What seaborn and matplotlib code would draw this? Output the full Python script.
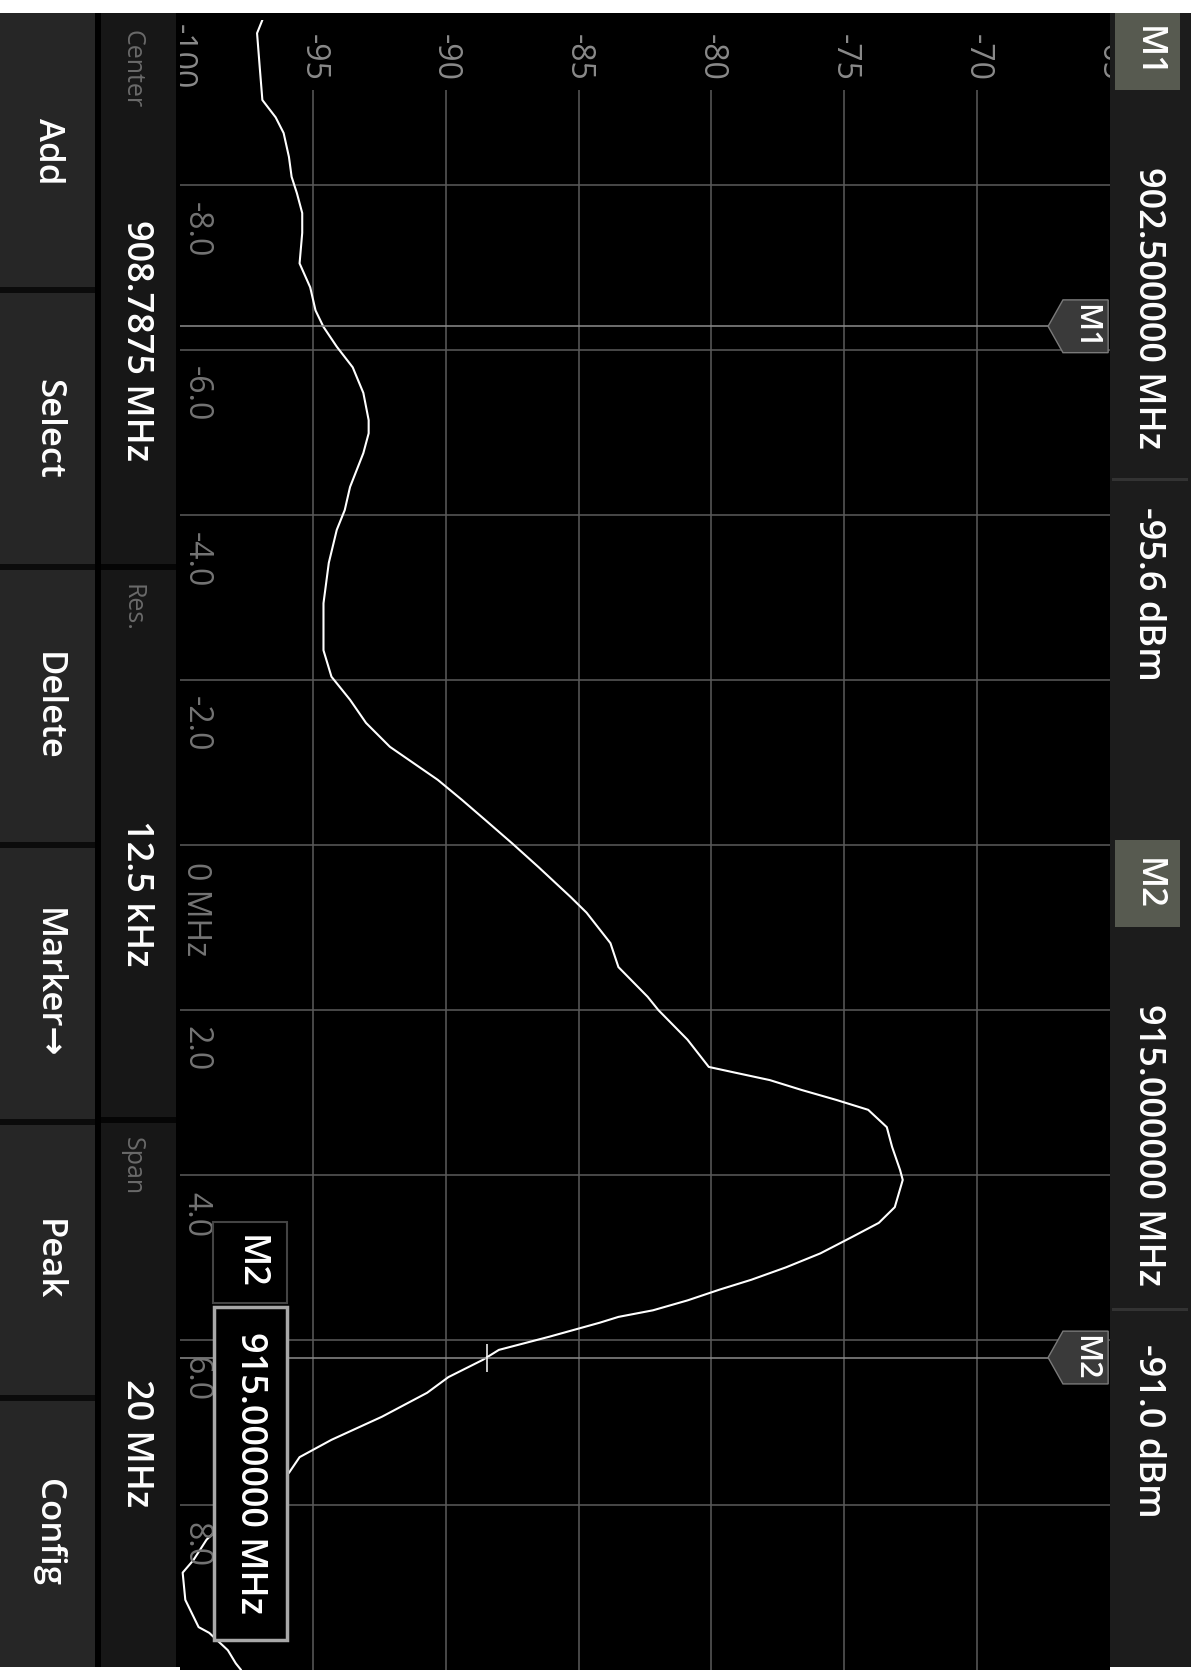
import numpy as np
import matplotlib
matplotlib.use("Agg")
import matplotlib.pyplot as plt
import seaborn as sns
from matplotlib.patches import Rectangle, Polygon

sns.set_style("dark")
plt.rcParams['font.family'] = ['Open Sans', 'DejaVu Sans']

# trace: offset from centre [MHz] and level [dBm]
freq_offset_mhz = [-10.0, -9.84, -9.43, -9.03, -8.82, -8.63, -8.34, -8.10, -7.90, -7.66,
                   -7.42, -7.05, -6.76, -6.48, -6.28, -6.04, -5.79, -5.48, -5.15, -4.99,
                   -4.75, -4.34, -4.06, -3.82, -3.42, -2.93, -2.36, -2.04, -1.76, -1.48,
                   -1.19, -0.99, -0.79, -0.55, -0.30, -0.02, 0.27, 0.63, 0.82, 1.19,
                   1.48, 1.84, 2.00, 2.36, 2.69, 2.76, 2.85, 2.97, 3.09, 3.21,
                   3.42, 3.66, 3.94, 4.06, 4.39, 4.58, 4.75, 4.95, 5.12, 5.27,
                   5.39, 5.52, 5.64, 5.72, 5.79, 5.96, 6.12, 6.24, 6.45, 6.64,
                   6.93, 7.21, 7.42, 7.61, 8.00, 8.42, 8.67, 8.82, 9.15, 9.48,
                   9.55, 9.76, 9.92, 10.0]
level_dbm = [-96.9, -97.1, -97.0, -96.9, -96.4, -96.1, -95.9, -95.8, -95.6, -95.4,
             -95.4, -95.5, -95.1, -94.9, -94.6, -94.1, -93.5, -93.1, -92.9, -92.9,
             -93.1, -93.6, -93.8, -94.1, -94.4, -94.6, -94.6, -94.3, -93.6, -93.0,
             -92.1, -91.2, -90.3, -89.4, -88.5, -87.5, -86.5, -85.3, -84.7, -83.8,
             -83.5, -82.4, -82.0, -80.9, -80.1, -79.1, -77.8, -76.6, -75.3, -74.1,
             -73.4, -73.2, -72.9, -72.8, -73.1, -73.7, -74.7, -75.9, -77.2, -78.5,
             -79.7, -80.9, -82.2, -83.5, -84.2, -86.1, -88.0, -88.6, -89.9, -90.7,
             -92.4, -94.3, -95.5, -95.9, -97.6, -99.0, -99.5, -99.9, -99.8, -99.3,
             -98.9, -98.2, -97.9, -97.7]

dbm_ticks = [-100, -95, -90, -85, -80, -75, -70, -65]
freq_ticks = [-8, -6, -4, -2, 0, 2, 4, 6, 8]
freq_labels = ['-8.0', '-6.0', '-4.0', '-2.0', '0 MHz', '2.0', '4.0', '6.0', '8.0']

center_mhz = 908.7875
markers = ['M1', 'M2']
marker_mhz = [902.5, 915.0]
marker_dbm_text = ['-95.6 dBm', '-91.0 dBm']

buttons = ['Add', 'Select', 'Delete', 'Marker→', 'Peak', 'Config']
info_names = ['Center', 'Res.', 'Span']
info_values = ['908.7875 MHz', '12.5 kHz', '20 MHz']

W, H = 1191, 1672
fig = plt.figure(figsize=(W / 100, H / 100), dpi=100, facecolor='white')


def fx(x):
    return x / W


def fy(y):
    return 1 - y / H


def box(x0, y0, x1, y1, **kw):
    kw.setdefault('edgecolor', 'none')
    kw.setdefault('lw', 0)
    fig.add_artist(Rectangle((fx(x0), fy(y1)), (x1 - x0) / W, (y1 - y0) / H,
                             transform=fig.transFigure, **kw))


def label(x, y, s, **kw):
    kw.setdefault('ha', 'center')
    kw.setdefault('va', 'center')
    fig.text(fx(x), fy(y), s, rotation=-90, **kw)


# screen background and side panels
box(0, 13, W, 1667, facecolor='black', zorder=-10)
box(0, 13, 95, 1667, facecolor='#262626', zorder=-9)
box(101, 13, 176, 1667, facecolor='#171717', zorder=-9)
box(1110, 13, W, 1667, facecolor='#1c1c1c', zorder=-9)

# bottom buttons (left column once rotated)
btn_edges = [13, 290, 567, 845, 1122, 1398, 1667]
for i, name in enumerate(buttons):
    if i > 0:
        box(0, btn_edges[i] - 3, 95, btn_edges[i] + 3, facecolor='#0b0b0b', zorder=-8)
    label(48, (btn_edges[i] + btn_edges[i + 1]) / 2, name, color='white',
          fontsize=25, fontweight='semibold')

# centre / res / span panel
info_edges = [13, 567, 1120, 1667]
for i, (name, val) in enumerate(zip(info_names, info_values)):
    if i > 0:
        box(101, info_edges[i] - 3, 176, info_edges[i] + 3, facecolor='#050505', zorder=-8)
    label(132, info_edges[i] + 17, name, color='#6a6a6a', fontsize=18, va='top')
    label(136, (info_edges[i] + info_edges[i + 1]) / 2 + 50, val, color='white',
          fontsize=26, fontweight='semibold')

# marker readout strip on the right
strip_rows = [(13, 90), (840, 927)]
for i, m in enumerate(markers):
    y0, y1 = strip_rows[i]
    box(1115, y0, 1180, y1, facecolor='#575a50', zorder=-8)
    label(1148, (y0 + y1) / 2, m, color='white', fontsize=25, fontweight='semibold')
    label(1148, y1 + 77, f'{marker_mhz[i]:.6f} MHz', color='white', fontsize=26,
          va='top', fontweight='semibold')
    label(1148, y1 + 417, marker_dbm_text[i], color='white', fontsize=26,
          va='top', fontweight='semibold')
box(1112, 478, 1188, 481, facecolor='#333333', zorder=-8)
box(1112, 1308, 1188, 1311, facecolor='#333333', zorder=-8)

# spectrum plot (frequency runs down the page, level runs to the right)
ax = fig.add_axes([fx(180), fy(1670), 930 / W, 1650 / H])
ax.set_facecolor('black')
for s in ax.spines.values():
    s.set_visible(False)
ax.set_xticks([])
ax.set_yticks([])
ax.set_xlim(-100, -65)
ax.set_ylim(10, -10)

grid_c = '#5c5c5c'
ax.vlines(dbm_ticks[1:-1], -9.15, 10, colors=grid_c, lw=1.1)
ax.hlines(freq_ticks, -100, -65, colors=grid_c, lw=1.1)

for v in dbm_ticks:
    ax.text(v, -9.55, str(v), rotation=-90, ha='center', va='center',
            color='#8a8a8a', fontsize=23, clip_on=True)
for f, lab in zip(freq_ticks, freq_labels):
    ax.text(-99.4, f + 0.2, lab, rotation=-90, ha='center', va='top',
            color='#747474', fontsize=23, clip_on=True)

sns.lineplot(x=level_dbm, y=freq_offset_mhz, orient='y', estimator=None,
             color='white', lw=1.5, ax=ax)

for m, mhz in zip(markers, marker_mhz):
    off = mhz - center_mhz
    ax.hlines(off, -100, -67.33, colors='#8c8c8c', lw=1.1)
    flag = [(-67.33, off), (-66.77, off - 0.32), (-65.07, off - 0.32),
            (-65.07, off + 0.32), (-66.77, off + 0.32)]
    ax.add_patch(Polygon(flag, closed=True, facecolor='#3a3a3a', edgecolor='#7a7a7a',
                         lw=1, clip_on=False, zorder=4))
    ax.text(-65.95, off, m, rotation=-90, ha='center', va='center',
            color='white', fontsize=22, fontweight='semibold', zorder=5, clip_on=False)

m2_off = marker_mhz[1] - center_mhz
m2_lvl = np.interp(m2_off, freq_offset_mhz, level_dbm)
ax.vlines(m2_lvl, m2_off - 0.17, m2_off + 0.17, colors='white', lw=1.1)

# M2 popup
box(213, 1222, 287, 1303, facecolor='black', edgecolor='#444444', lw=1.5, zorder=6)
label(250, 1262, 'M2', color='white', fontsize=26, fontweight='semibold', zorder=7)
box(214, 1307, 287, 1640, facecolor='black', edgecolor='#a8a8a8', lw=2.5, zorder=6)
label(250, 1473, f'{marker_mhz[1]:.6f} MHz', color='white', fontsize=26,
      fontweight='semibold', zorder=7)

fig.savefig('out.png', dpi=100, facecolor=fig.get_facecolor())
